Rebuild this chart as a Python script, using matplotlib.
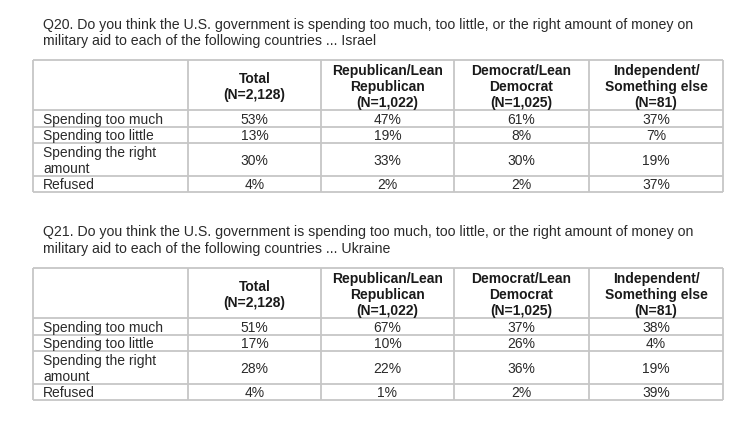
import matplotlib.pyplot as plt

plt.rcParams['font.family'] = ['Liberation Sans', 'DejaVu Sans']

# data
questions = [
    "Q20. Do you think the U.S. government is spending too much, too little, or the right amount of money on\nmilitary aid to each of the following countries ... Israel",
    "Q21. Do you think the U.S. government is spending too much, too little, or the right amount of money on\nmilitary aid to each of the following countries ... Ukraine",
]
col_headers = ["Total\n(N=2,128)", "Republican/Lean\nRepublican\n(N=1,022)",
               "Democrat/Lean\nDemocrat\n(N=1,025)", "Independent/\nSomething else\n(N=81)"]
row_labels = ["Spending too much", "Spending too little", "Spending the right\namount", "Refused"]
israel = [["53%", "47%", "61%", "37%"],
          ["13%", "19%", "8%", "7%"],
          ["30%", "33%", "30%", "19%"],
          ["4%", "2%", "2%", "37%"]]
ukraine = [["51%", "67%", "37%", "38%"],
           ["17%", "10%", "26%", "4%"],
           ["28%", "22%", "36%", "19%"],
           ["4%", "1%", "2%", "39%"]]

W, H = 730, 431
fig = plt.figure(figsize=(W / 100, H / 100), dpi=100)
ax = fig.add_axes([0, 0, 1, 1])
ax.set_xlim(0, W)
ax.set_ylim(H, 0)
ax.axis('off')

col_x = [33, 188, 321, 454, 589, 723]
line_c = '#c6c6c6'
fs = 10


def draw_table(title, data, y_title, y_top):
    ax.text(43, y_title, title, fontsize=10.2, color='#2a2a2a', va='top', ha='left', linespacing=1.22)
    row_y = [y_top, y_top + 50, y_top + 67, y_top + 83, y_top + 116, y_top + 132]
    for y in row_y:
        ax.plot([col_x[0], col_x[-1]], [y, y], color=line_c, lw=1.3, solid_capstyle='butt')
    for x in col_x:
        ax.plot([x, x], [row_y[0], row_y[-1]], color=line_c, lw=1.3, solid_capstyle='butt')
    for j, h in enumerate(col_headers):
        cx = (col_x[j + 1] + col_x[j + 2]) / 2
        ax.text(cx, (row_y[0] + row_y[1]) / 2 + 1, h, fontsize=fs, fontweight='bold',
                ha='center', va='center', color='#1a1a1a', linespacing=1.15)
    for i, lab in enumerate(row_labels):
        cy = (row_y[i + 1] + row_y[i + 2]) / 2 + 0.5
        ax.text(43, cy, lab, fontsize=fs, ha='left', va='center', color='#2a2a2a', linespacing=1.15)
        for j, v in enumerate(data[i]):
            cx = (col_x[j + 1] + col_x[j + 2]) / 2
            ax.text(cx, cy, v, fontsize=fs, ha='center', va='center', color='#2a2a2a')


draw_table(questions[0], israel, 17.5, 61)
draw_table(questions[1], ukraine, 225.5, 269)

fig.savefig('out.png', dpi=100)
